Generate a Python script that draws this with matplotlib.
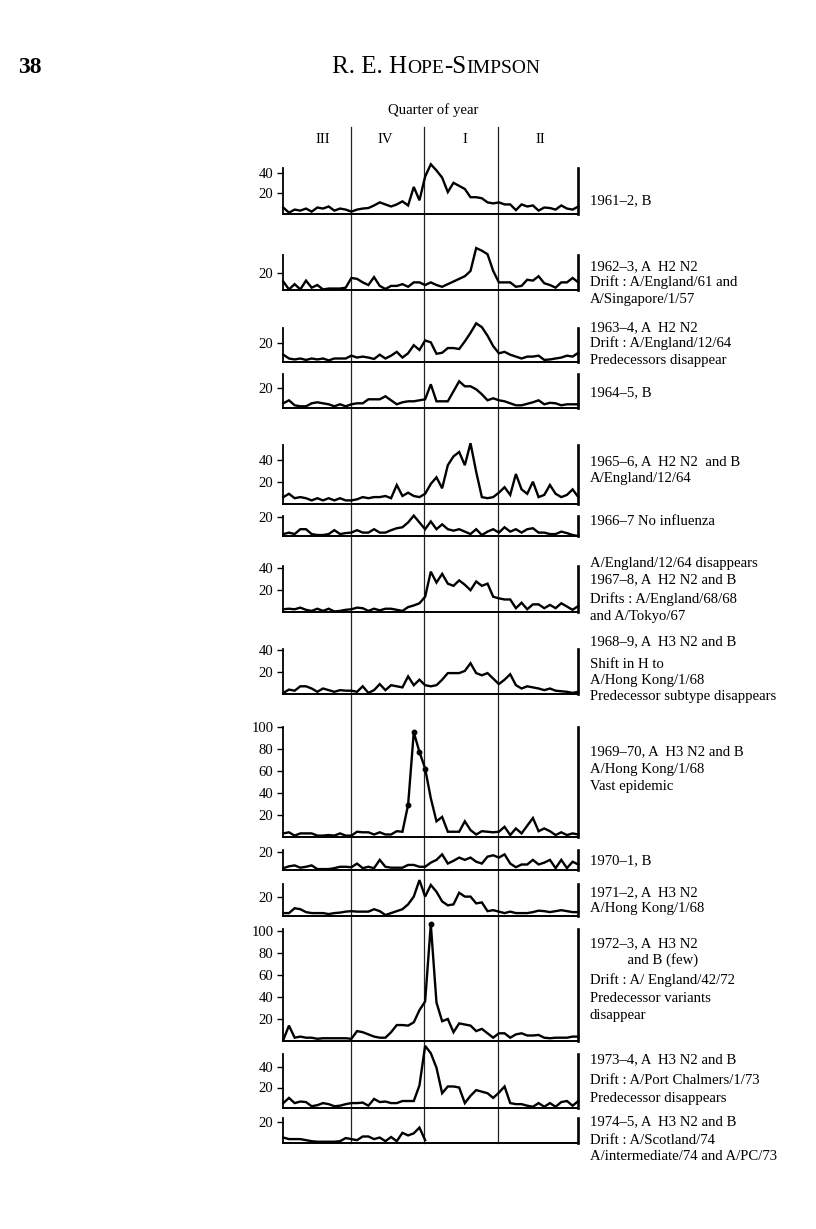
import matplotlib
matplotlib.use("Agg")
import matplotlib.pyplot as plt

plt.rcParams['font.family'] = ['Liberation Serif', 'DejaVu Serif']

W, H = 816, 1229

# ---------------- data (weekly values, week 0 .. 52) ----------------
s1961 = [6, 1, 4, 3, 5, 2, 6, 5, 7, 3, 5, 4, 2, 4, 5, 5.5, 8, 11, 9, 7, 9, 12, 8, 26, 13, 36,
         48, 42, 35, 21, 30, 27, 24, 16, 16, 15, 11, 10, 11, 9, 9, 3.5, 9, 7, 8, 3, 6, 5.5, 4, 8, 5, 4, 7]
s1962 = [10, 1, 7, 1, 11, 3, 6, 1, 2, 2, 2, 3, 14, 13, 9, 6, 15, 5, 1.5, 5, 5, 7, 4, 9, 9, 6,
         9, 6, 4, 7, 10, 13, 16, 22, 48, 45, 41, 22, 9, 9, 9, 4, 5, 12, 11, 16, 8, 6, 3, 9, 9, 14, 9]
s1963 = [8, 4, 3, 4, 2.5, 4, 3, 4, 2, 4, 4, 4, 7, 5, 6, 5, 3.5, 8, 4, 7, 11, 5, 9.5, 18, 13, 23,
         21, 9, 10, 15, 15, 14, 22, 31, 41, 37, 28, 17, 9.5, 11, 8, 6, 4, 6, 6, 7, 2.5, 3, 4, 5, 7, 6, 10]
s1964 = [5, 8, 3, 2, 2, 5, 6, 5, 4, 2, 4, 2, 4, 5, 5, 9, 9, 9, 12, 8, 4, 6, 7, 7, 8, 9,
         24, 7, 7, 7, 17, 27, 22, 22, 19, 14, 8, 10, 8, 7, 5, 3, 3, 4.5, 6, 8, 4, 5.5, 5, 3, 4, 4, 4]
s1965 = [6, 9, 5, 6, 5, 3, 5, 3, 5, 3, 5, 3, 3, 4, 6, 5, 6, 6, 7, 5, 17, 7, 10, 7, 6, 9,
         18, 24, 14, 35, 43, 47, 35, 55, 29, 6, 5, 6, 10, 15, 8, 27, 13, 9, 20, 6, 8, 17, 9, 6, 8, 13, 6]
s1966 = [2, 3.5, 2, 7, 7, 2, 1, 1, 2, 6, 2, 3, 3.5, 6, 3.5, 3.5, 7, 3.5, 3.5, 6, 8, 9, 14, 21, 14, 7,
         15, 7, 12, 7, 5.5, 7, 4.5, 2, 7, 1, 4.5, 7, 3.5, 9, 4.5, 7, 3.5, 7, 8, 3.5, 3.5, 2, 2, 4.5, 3, 1, 0]
s1967 = [2.5, 3, 2.5, 4, 2, 1, 3, 1, 3, 0.5, 1, 2, 2.5, 4, 3.5, 1, 3, 1.5, 3, 3, 2, 1, 4.5, 6, 8, 14,
         37, 27, 35, 26, 24, 29, 25, 20, 28, 24, 26, 14, 12.5, 11.5, 11.5, 3.5, 8.5, 2.5, 7, 7, 3.5, 6.5, 3.5, 8, 5, 2, 5.5]
s1968 = [1, 4, 3, 7, 7, 5, 2, 5, 3.5, 2, 3.5, 3, 3, 2, 7, 1, 3.5, 9, 3.5, 8, 7, 6, 16, 8, 13, 8,
         7, 8, 13, 19, 19, 19, 21, 28, 19, 17, 19, 14, 9, 13, 18, 8, 5, 7, 6, 5, 3.5, 5, 3, 2.5, 2, 1, 2]
s1969 = [3, 4, 1, 3, 3, 3, 1, 1, 1.5, 1, 3, 1, 1, 4.5, 4, 4, 2, 4, 2, 2, 5, 4.5, 29, 95, 77, 62,
         35, 14, 18, 4.5, 4.5, 4.5, 14, 6, 2, 5, 4.5, 4, 4.5, 9, 1.5, 7.5, 3, 10, 17, 5, 7.5, 5, 1.5, 4, 1.5, 3, 2]
s1970 = [2, 4, 5, 2.5, 3.5, 5, 1, 1, 1, 2, 3.5, 3.5, 3, 7, 2, 3.5, 2, 11, 3.5, 2.5, 2.5, 2.5, 5.5, 5.5, 3.5, 3.5,
         8, 11, 17, 7, 10, 13.5, 11, 13.5, 9, 7, 14.5, 16, 13.5, 17, 7, 3, 6, 6, 11, 6, 8, 11, 2, 11, 2, 9, 6]
s1971 = [3, 3, 8, 7, 4, 3, 3, 3, 2, 3, 3.5, 4.5, 5, 4.5, 4.5, 4.5, 7, 5, 1, 3, 5, 7, 12, 20, 37, 20,
         32, 25, 15, 11, 12, 24, 20, 20, 13, 14, 5, 6, 4.5, 3, 4.5, 3, 3, 3, 4, 5.5, 5, 4, 5, 6, 5, 4, 4]
s1972 = [1, 14, 3, 4, 3, 3, 2, 2.5, 2.5, 2.5, 2.5, 2.5, 2, 9, 8, 6, 4, 3, 3, 8, 14.5, 14.5, 14, 17, 28, 36,
         106, 35, 18, 20, 8, 16, 15, 14, 9, 11, 7, 3, 7, 7, 3, 6, 7, 5, 5, 5.5, 3, 2.5, 3, 3, 3, 4, 4]
s1973 = [5, 10, 5, 6.5, 6, 2, 3, 5, 4, 2, 2.5, 4, 5, 5, 5.5, 2.5, 9, 6, 6.5, 5, 5, 7, 7, 7, 22, 60,
         53, 39, 14.5, 21, 21, 20, 5, 12, 17.5, 16, 14.5, 10, 15, 21, 5, 4, 4, 2.5, 1.5, 5, 1.5, 5, 1.5, 6, 7, 2.5, 7]
s1974 = [5.5, 4, 4, 4, 3, 2, 1.5, 1.5, 1.5, 1.5, 2, 5, 4, 3, 6.5, 6.5, 4, 5.5, 2, 6, 2, 10, 7.5, 9.5, 15, 3]

series = [s1961, s1962, s1963, s1964, s1965, s1966, s1967,
          s1968, s1969, s1970, s1971, s1972, s1973, s1974]

# weeks that carry a dot marker
marked = {8: [22, 23, 24, 25], 11: [26]}

yticks = [[20, 40], [20], [20], [20], [20, 40], [20], [20, 40],
          [20, 40], [20, 40, 60, 80, 100], [20], [20], [20, 40, 60, 80, 100], [20, 40], [20]]

notes = [
    ["1961–2, B"],
    ["1962–3, A  H2 N2", "Drift : A/England/61 and", "A/Singapore/1/57"],
    ["1963–4, A  H2 N2", "Drift : A/England/12/64", "Predecessors disappear"],
    ["1964–5, B"],
    ["1965–6, A  H2 N2  and B", "A/England/12/64"],
    ["1966–7 No influenza"],
    ["A/England/12/64 disappears", "1967–8, A  H2 N2 and B", "Drifts : A/England/68/68", "and A/Tokyo/67"],
    ["1968–9, A  H3 N2 and B", "Shift in H to", "A/Hong Kong/1/68", "Predecessor subtype disappears"],
    ["1969–70, A  H3 N2 and B", "A/Hong Kong/1/68", "Vast epidemic"],
    ["1970–1, B"],
    ["1971–2, A  H3 N2", "A/Hong Kong/1/68"],
    ["1972–3, A  H3 N2", "          and B (few)", "Drift : A/ England/42/72", "Predecessor variants", "disappear"],
    ["1973–4, A  H3 N2 and B", "Drift : A/Port Chalmers/1/73", "Predecessor disappears"],
    ["1974–5, A  H3 N2 and B", "Drift : A/Scotland/74", "A/intermediate/74 and A/PC/73"],
]

quarter_breaks = [11.94, 24.76, 37.76]
quarter_labels = ["III", "IV", "I", "II"]
n_weeks = 52

# ---------------- layout (pixels) ----------------
X0, X1 = 283.3, 578.3
# baseline px, px per unit, ymax
layout = [(213.7, 1.03, 44), (290.3, 0.88, 40), (362.3, 0.95, 36), (408.3, 1.0, 34),
          (503.7, 1.1, 53), (536.0, 0.97, 21), (612.0, 1.09, 42), (694.0, 1.1, 41),
          (836.7, 1.1, 100), (870.0, 0.92, 22), (916.0, 0.97, 33), (1041.0, 1.1, 102),
          (1108.3, 1.04, 52), (1143.3, 1.05, 24)]
note_y = [
    [204],
    [270, 286, 303],
    [331, 347, 364],
    [396],
    [465, 482],
    [525],
    [567, 583, 603, 620],
    [645, 668, 684, 700],
    [755, 773, 790],
    [864],
    [896, 912],
    [947, 964, 984, 1002, 1019],
    [1063, 1084, 1102],
    [1125, 1144, 1160],
]
FS = 10.6

fig = plt.figure(figsize=(W / 100, H / 100), dpi=100)
ov = fig.add_axes([0, 0, 1, 1])
ov.set_xlim(0, W)
ov.set_ylim(H, 0)
ov.axis('off')


def wx(w):
    return X0 + w / n_weeks * (X1 - X0)


# quarter dividers
for b in quarter_breaks:
    ov.plot([wx(b), wx(b)], [127, 1143.3], color='#222222', lw=0.9)

# quarter labels
edges = [0] + quarter_breaks + [n_weeks]
lab_off = [1.2, -0.5, 0.8, 0.5]
for i, lab in enumerate(quarter_labels):
    xc = (wx(edges[i]) + wx(edges[i + 1])) / 2 + lab_off[i] * 5
    ov.text(xc, 143, lab, fontsize=FS, ha='center', va='baseline')
ov.text(433, 114, "Quarter of year", fontsize=FS, ha='center', va='baseline')

# header
ov.text(18, 73, "38", fontsize=17, fontweight='bold', ha='left', va='baseline')
fig.canvas.draw()
rend = fig.canvas.get_renderer()
x = 332
for txt, sz in [("R. E. H", 18), ("OPE", 14), ("-S", 18), ("IMPSON", 14)]:
    t = ov.text(x, 73, txt, fontsize=sz, ha='left', va='baseline')
    bb = t.get_window_extent(renderer=rend)
    x += bb.width

# panels
for i, s in enumerate(series):
    base, sc, ymax = layout[i]
    hpx = ymax * sc
    ax = fig.add_axes([X0 / W, 1 - base / H, (X1 - X0) / W, hpx / H])
    ax.patch.set_visible(False)
    ax.set_xlim(0, n_weeks)
    ax.set_ylim(0, ymax)
    ax.spines['top'].set_visible(False)
    ax.spines['left'].set_linewidth(1.3)
    ax.spines['bottom'].set_linewidth(1.4)
    ax.spines['right'].set_linewidth(1.9)
    ax.set_xticks([])
    ax.set_yticks(yticks[i])
    ax.set_yticklabels([str(v) for v in yticks[i]])
    ax.tick_params(axis='y', direction='out', length=4, width=1.0, labelsize=FS, pad=3)
    ax.plot(range(len(s)), s, color='black', lw=1.7, clip_on=False, solid_joinstyle='miter')
    if i in marked:
        mk = marked[i]
        ax.plot(mk, [s[k] for k in mk], 'o', color='black', ms=3.2, clip_on=False)
    for line, yy in zip(notes[i], note_y[i]):
        ov.text(590, yy, line, fontsize=FS, ha='left', va='baseline')

fig.savefig("out.png", dpi=100)
